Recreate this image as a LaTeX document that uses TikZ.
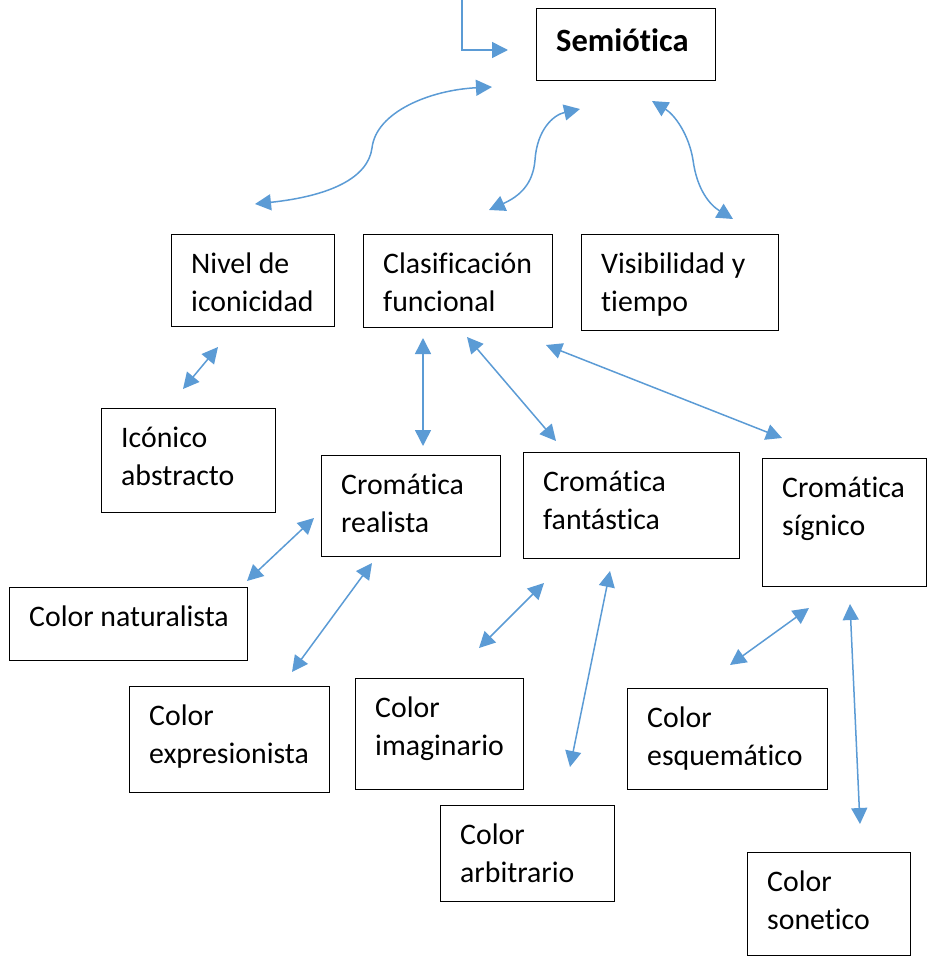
\documentclass[tikz,border=0pt]{standalone}
\usepackage{fontspec}
\setmainfont[Ligatures=NoCommon]{Carlito}
\usetikzlibrary{arrows.meta}
\definecolor{ablue}{HTML}{5B9BD5}
\tikzset{
  box/.style={draw=black, line width=1.3pt, anchor=north west, inner sep=0pt},
  txt/.style={anchor=north west, align=flush left, text width=210pt, inner sep=0pt, xshift=20pt, text height=39pt, font=\fontsize{29.8}{38}\selectfont},
  tip/.tip={Triangle[length=16pt,width=16pt]},
  conn/.style={draw=ablue, line width=1.5pt, tip-tip},
  conn1/.style={draw=ablue, line width=1.5pt, -tip}
}
\begin{document}
\begin{tikzpicture}[x=1pt,y=-1pt]
\useasboundingbox (0,0) rectangle (927,961);
% boxes
\node[box, minimum width=179pt, minimum height=72pt, label={[txt, text height=43pt]north west:\fontsize{32.5}{38}\selectfont\textbf{Semiótica}}] (sem) at (536,8) {};
\node[box, minimum width=163pt, minimum height=92pt, label={[txt]north west:Nivel de\\iconicidad}] (niv) at (171,234) {};
\node[box, minimum width=189pt, minimum height=93pt, label={[txt]north west:Clasificación\\funcional}] (cla) at (363,234) {};
\node[box, minimum width=197pt, minimum height=96pt, label={[txt]north west:Visibilidad y\\tiempo}] (vis) at (581,234) {};
\node[box, minimum width=174pt, minimum height=104pt, label={[txt]north west:Icónico\\abstracto}] (ico) at (101,408) {};
\node[box, minimum width=179pt, minimum height=101pt, label={[txt]north west:Cromática\\realista}] (cre) at (321,455) {};
\node[box, minimum width=216pt, minimum height=106pt, label={[txt]north west:Cromática\\fantástica}] (cfa) at (523,452) {};
\node[box, minimum width=164pt, minimum height=128pt, label={[txt]north west:Cromática\\sígnico}] (csi) at (762,458) {};
\node[box, minimum width=238pt, minimum height=73pt, label={[txt]north west:Color naturalista}] (cna) at (9,587) {};
\node[box, minimum width=200pt, minimum height=106pt, label={[txt]north west:Color\\expresionista}] (cex) at (129,686) {};
\node[box, minimum width=168pt, minimum height=111pt, label={[txt]north west:Color\\imaginario}] (cim) at (355,678) {};
\node[box, minimum width=174pt, minimum height=96pt, label={[txt]north west:Color\\arbitrario}] (car) at (440,805) {};
\node[box, minimum width=200pt, minimum height=101pt, label={[txt]north west:Color\\esquemático}] (ces) at (627,688) {};
\node[box, minimum width=163pt, minimum height=103pt, label={[txt]north west:Color\\sonetico}] (cso) at (747,852) {};
% connector end points
\coordinate (t0) at (462,0);
\coordinate (t1) at (462,50);
\coordinate (t2) at (508,50);
\coordinate (a1) at (255,204);
\coordinate (a2) at (492,87);
\coordinate (b1) at (489,210);
\coordinate (b2) at (580,109);
\coordinate (c1) at (652,101);
\coordinate (c2) at (733,219);
\coordinate (d1) at (218,347);
\coordinate (d2) at (183,389);
\coordinate (e1) at (423,338);
\coordinate (e2) at (423,446);
\coordinate (f1) at (467,337);
\coordinate (f2) at (556,441);
\coordinate (g1) at (546,345);
\coordinate (g2) at (782,438);
\coordinate (h1) at (314,518);
\coordinate (h2) at (247,581);
\coordinate (i1) at (372,563);
\coordinate (i2) at (292,672);
\coordinate (j1) at (544,583);
\coordinate (j2) at (479,648);
\coordinate (k1) at (610,571);
\coordinate (k2) at (570,767);
\coordinate (l1) at (809,608);
\coordinate (l2) at (730,665);
\coordinate (m1) at (850,604);
\coordinate (m2) at (860,824);
% connectors
\draw[conn1] (t0) -- (t1) -- (t2);
\draw[conn] (a1) .. controls (330,196) and (368,178) .. (372,148) .. controls (376,112) and (430,90) .. (a2);
\draw[conn] (b1) .. controls (520,196) and (533,184) .. (535,160) .. controls (537,130) and (553,115) .. (b2);
\draw[conn] (c1) .. controls (675,115) and (689,135) .. (693,160) .. controls (697,190) and (710,205) .. (c2);
\draw[conn] (d1) -- (d2);
\draw[conn] (e1) -- (e2);
\draw[conn] (f1) -- (f2);
\draw[conn] (g1) -- (g2);
\draw[conn] (h1) -- (h2);
\draw[conn] (i1) -- (i2);
\draw[conn] (j1) -- (j2);
\draw[conn] (k1) -- (k2);
\draw[conn] (l1) -- (l2);
\draw[conn] (m1) -- (m2);
\end{tikzpicture}
\end{document}
